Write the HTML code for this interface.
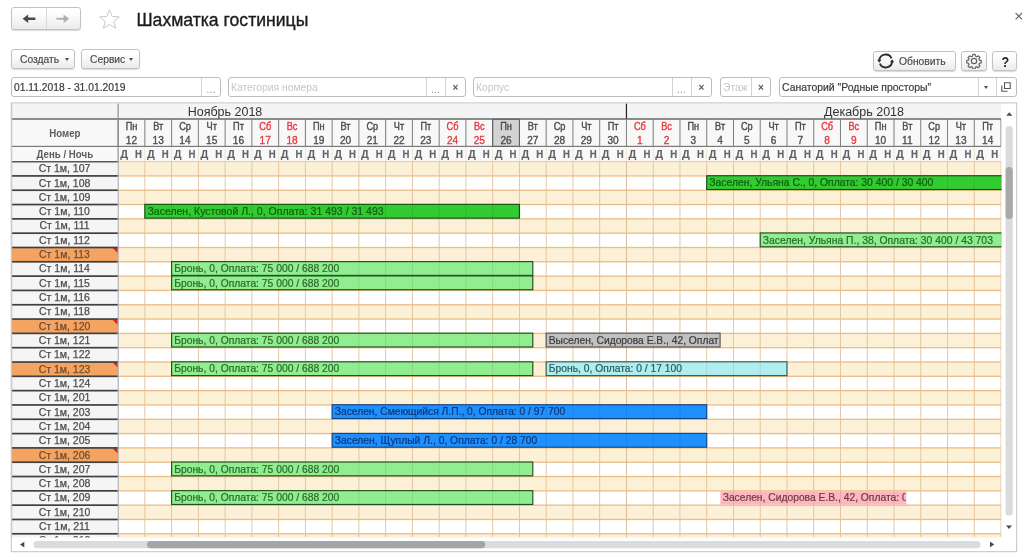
<!DOCTYPE html>
<html lang="ru">
<head>
<meta charset="utf-8">
<title>Шахматка гостиницы</title>
<style>
html,body{margin:0;padding:0;}
body{-webkit-font-smoothing:antialiased;width:1024px;height:560px;overflow:hidden;background:#fff;position:relative;font-family:"Liberation Sans",sans-serif;color:#333;}
.abs{position:absolute;box-sizing:border-box;}
.btn{position:absolute;box-sizing:border-box;border:1px solid #c2c2c2;border-radius:3px;background:linear-gradient(#ffffff 20%,#ebebeb);box-shadow:0 1px 1px rgba(0,0,0,0.15);font-size:10.9px;color:#4c4c4c;white-space:nowrap;}
.cx{-webkit-text-stroke:0.2px currentColor;position:absolute;display:block;transform-origin:0 50%;transform:scaleX(0.945);white-space:nowrap;line-height:13px;}
.inp{position:absolute;box-sizing:border-box;border:1px solid #bcbcbc;border-radius:3px;background:#fff;font-size:10.9px;color:#3a3a3a;white-space:nowrap;height:20px;top:77px;overflow:hidden;}
.inp .cx{left:2px;top:3px;}
.inp .ph{color:#c6c6c6;-webkit-text-stroke:0;}
.inp .sep{position:absolute;top:0;bottom:0;width:1px;background:#d2d2d2;}
.inp .ic{position:absolute;top:2px;bottom:0;text-align:center;color:#5a5a5a;font-size:10px;line-height:16px;}
.inp .dots{top:4px;color:#909090;letter-spacing:0.3px;}
.dd{position:absolute;width:0;height:0;border-left:2.6px solid transparent;border-right:2.6px solid transparent;border-top:3px solid #4a4a4a;}
svg.grid{position:absolute;left:0;top:0;will-change:transform;font-family:"Liberation Sans",sans-serif;}
.frame{position:absolute;box-sizing:border-box;left:11px;top:103px;width:1006px;height:449px;border:1px solid #c6c6c6;}
</style>
</head>
<body>
<div id="app" style="position:absolute;left:0;top:0;width:1024px;height:560px;will-change:transform;">
<!-- navigation -->
<div class="btn" style="left:11px;top:7px;width:70px;height:23px;"></div>
<div class="abs" style="left:46px;top:8px;width:1px;height:21px;background:#d8d8d8;"></div>
<svg class="abs" style="left:0;top:0" width="130" height="40" viewBox="0 0 130 40">
  <path d="M22.6 18.8 l5.6 -4.3 v3.1 h7.2 v2.4 h-7.2 v3.1 z" fill="#4a4a4a"/>
  <path d="M69.2 18.8 l-5.6 -4.3 v3.3 h-7.2 v2 h7.2 v3.3 z" fill="#b0b0b0"/>
  <path d="M109.5 9.8 l2.7 6.6 l7.1 0.5 l-5.5 4.5 l1.8 6.9 l-6.1 -3.8 l-6.1 3.8 l1.8 -6.9 l-5.5 -4.5 l7.1 -0.5 z" fill="none" stroke="#c8c8c8" stroke-width="1"/>
</svg>
<div class="abs" style="left:136.5px;top:10px;font-size:17.6px;color:#1c1c1c;-webkit-text-stroke:0.35px #1c1c1c;white-space:nowrap;line-height:20px;">Шахматка гостиницы</div>
<svg class="abs" style="left:1014px;top:11px" width="10" height="10" viewBox="0 0 10 10"><path d="M1.6 2 l6.4 6.4 M8 2 l-6.4 6.4" stroke="#666" stroke-width="1.1" fill="none"/></svg>

<!-- command bar -->
<div class="btn" style="left:11px;top:49px;width:63.5px;height:20px;"><span class="cx" style="left:8px;top:3px;">Создать</span><span class="dd" style="left:52.8px;top:8px;"></span></div>
<div class="btn" style="left:80.5px;top:49px;width:59.5px;height:20px;"><span class="cx" style="left:8.5px;top:3px;">Сервис</span><span class="dd" style="left:47.8px;top:8px;"></span></div>

<div class="btn" style="left:873px;top:51px;width:82.5px;height:20px;"><span class="cx" style="left:25px;top:3px;">Обновить</span>
<svg class="abs" style="left:0;top:0.4px" width="24" height="18" viewBox="0 0 24 18"><path d="M5.3 8.4 A6.4 6.4 0 0 1 17.5 6.3" fill="none" stroke="#2c2c2c" stroke-width="1.9"/><path d="M18.1 9.6 A6.4 6.4 0 0 1 5.9 11.7" fill="none" stroke="#2c2c2c" stroke-width="1.9"/><path d="M3.2 7.8 h4.2 l-2.1 3 z" fill="#2c2c2c"/><path d="M20.2 10.2 h-4.2 l2.1 -3 z" fill="#2c2c2c"/></svg></div>
<div class="btn" style="left:961px;top:51px;width:25.5px;height:20px;">
<svg class="abs" style="left:3.6px;top:1.1px" width="16" height="16" viewBox="0 0 24 24"><path d="M10.3 2.2 h3.4 l0.6 2.7 l1.9 0.8 l2.3 -1.5 l2.4 2.4 l-1.5 2.3 l0.8 1.9 l2.7 0.6 v3.4 l-2.7 0.6 l-0.8 1.9 l1.5 2.3 l-2.4 2.4 l-2.3 -1.5 l-1.9 0.8 l-0.6 2.7 h-3.4 l-0.6 -2.7 l-1.9 -0.8 l-2.3 1.5 l-2.4 -2.4 l1.5 -2.3 l-0.8 -1.9 l-2.7 -0.6 v-3.4 l2.7 -0.6 l0.8 -1.9 l-1.5 -2.3 l2.4 -2.4 l2.3 1.5 l1.9 -0.8 z" fill="none" stroke="#626262" stroke-width="1.8" stroke-linejoin="round"/><circle cx="12" cy="12" r="4" fill="none" stroke="#626262" stroke-width="1.8"/></svg></div>
<div class="btn" style="left:992px;top:51px;width:25px;height:20px;"><span class="abs" style="left:8px;top:1.5px;font-size:14px;font-weight:bold;color:#2a2a2a;line-height:16px;transform:scaleX(0.9);">?</span></div>

<!-- filter row -->
<div class="inp" style="left:11px;width:209.5px;"><span class="cx">01.11.2018 - 31.01.2019</span><span class="sep" style="left:188.5px;"></span><span class="ic dots" style="left:189.5px;width:19px;">...</span></div>
<div class="inp" style="left:228px;width:237.5px;"><span class="cx ph">Категория номера</span><span class="sep" style="left:196.5px;"></span><span class="ic dots" style="left:197px;width:19px;">...</span><span class="sep" style="left:216px;"></span><span class="ic" style="left:217px;width:19px;font-weight:bold;">×</span></div>
<div class="inp" style="left:473px;width:238.5px;"><span class="cx ph">Корпус</span><span class="sep" style="left:197.5px;"></span><span class="ic dots" style="left:198px;width:19px;">...</span><span class="sep" style="left:217px;"></span><span class="ic" style="left:218px;width:19px;font-weight:bold;">×</span></div>
<div class="inp" style="left:720px;width:51px;"><span class="cx ph">Этаж</span><span class="sep" style="left:29.5px;"></span><span class="ic" style="left:30.5px;width:19px;font-weight:bold;">×</span></div>
<div class="inp" style="left:779px;width:238px;"><span class="cx" style="transform:scaleX(0.957);">Санаторий "Родные просторы"</span><span class="sep" style="left:197.5px;"></span><span class="dd" style="left:203.6px;top:8px;"></span><span class="sep" style="left:216px;"></span>
<svg class="abs" style="left:221px;top:4px" width="10" height="10" viewBox="0 0 10 10"><path d="M3.5 0.8 h5.7 v5.7 h-5.7 z M0.8 3.5 v5.7 h5.7" fill="none" stroke="#555" stroke-width="1.1"/></svg></div>

<!-- grid -->
<svg class="grid" width="1024" height="560" viewBox="0 0 1024 560">
<defs><clipPath id="cl"><rect x="11.5" y="103.3" width="990.0" height="434.3"/></clipPath></defs>
<g clip-path="url(#cl)">
<rect x="11.5" y="103.3" width="989.5" height="15.7" fill="#f4f4f4"/>
<rect x="11.5" y="119.0" width="989.5" height="27.4" fill="#f8f8f8"/>
<rect x="11.5" y="146.4" width="989.5" height="15.2" fill="#f9f9f9"/>
<rect x="11.5" y="161.6" width="106.6" height="376.0" fill="#f5f5f5"/>
<rect x="118.10" y="161.60" width="882.91" height="14.31" fill="#fcf0d6"/>
<rect x="118.10" y="190.23" width="882.91" height="14.31" fill="#fcf0d6"/>
<rect x="118.10" y="218.86" width="882.91" height="14.31" fill="#fcf0d6"/>
<rect x="118.10" y="247.49" width="882.91" height="14.31" fill="#fcf0d6"/>
<rect x="118.10" y="276.12" width="882.91" height="14.31" fill="#fcf0d6"/>
<rect x="118.10" y="304.75" width="882.91" height="14.31" fill="#fcf0d6"/>
<rect x="118.10" y="333.38" width="882.91" height="14.31" fill="#fcf0d6"/>
<rect x="118.10" y="362.01" width="882.91" height="14.31" fill="#fcf0d6"/>
<rect x="118.10" y="390.64" width="882.91" height="14.31" fill="#fcf0d6"/>
<rect x="118.10" y="419.27" width="882.91" height="14.31" fill="#fcf0d6"/>
<rect x="118.10" y="447.90" width="882.91" height="14.31" fill="#fcf0d6"/>
<rect x="118.10" y="476.53" width="882.91" height="14.31" fill="#fcf0d6"/>
<rect x="118.10" y="505.16" width="882.91" height="14.31" fill="#fcf0d6"/>
<rect x="118.10" y="533.79" width="882.91" height="14.31" fill="#fcf0d6"/>
<rect x="144.41" y="146.40" width="0.9" height="15.20" fill="#f1e3cd"/>
<rect x="144.41" y="161.60" width="0.9" height="376.00" fill="#dfc29b"/>
<rect x="171.16" y="146.40" width="0.9" height="15.20" fill="#f1e3cd"/>
<rect x="171.16" y="161.60" width="0.9" height="376.00" fill="#dfc29b"/>
<rect x="197.92" y="146.40" width="0.9" height="15.20" fill="#f1e3cd"/>
<rect x="197.92" y="161.60" width="0.9" height="376.00" fill="#dfc29b"/>
<rect x="224.67" y="146.40" width="0.9" height="15.20" fill="#f1e3cd"/>
<rect x="224.67" y="161.60" width="0.9" height="376.00" fill="#dfc29b"/>
<rect x="251.43" y="146.40" width="0.9" height="15.20" fill="#f1e3cd"/>
<rect x="251.43" y="161.60" width="0.9" height="376.00" fill="#dfc29b"/>
<rect x="278.18" y="146.40" width="0.9" height="15.20" fill="#f1e3cd"/>
<rect x="278.18" y="161.60" width="0.9" height="376.00" fill="#dfc29b"/>
<rect x="304.94" y="146.40" width="0.9" height="15.20" fill="#f1e3cd"/>
<rect x="304.94" y="161.60" width="0.9" height="376.00" fill="#dfc29b"/>
<rect x="331.69" y="146.40" width="0.9" height="15.20" fill="#f1e3cd"/>
<rect x="331.69" y="161.60" width="0.9" height="376.00" fill="#dfc29b"/>
<rect x="358.44" y="146.40" width="0.9" height="15.20" fill="#f1e3cd"/>
<rect x="358.44" y="161.60" width="0.9" height="376.00" fill="#dfc29b"/>
<rect x="385.20" y="146.40" width="0.9" height="15.20" fill="#f1e3cd"/>
<rect x="385.20" y="161.60" width="0.9" height="376.00" fill="#dfc29b"/>
<rect x="411.95" y="146.40" width="0.9" height="15.20" fill="#f1e3cd"/>
<rect x="411.95" y="161.60" width="0.9" height="376.00" fill="#dfc29b"/>
<rect x="438.71" y="146.40" width="0.9" height="15.20" fill="#f1e3cd"/>
<rect x="438.71" y="161.60" width="0.9" height="376.00" fill="#dfc29b"/>
<rect x="465.46" y="146.40" width="0.9" height="15.20" fill="#f1e3cd"/>
<rect x="465.46" y="161.60" width="0.9" height="376.00" fill="#dfc29b"/>
<rect x="492.22" y="146.40" width="0.9" height="15.20" fill="#f1e3cd"/>
<rect x="492.22" y="161.60" width="0.9" height="376.00" fill="#dfc29b"/>
<rect x="518.97" y="146.40" width="0.9" height="15.20" fill="#f1e3cd"/>
<rect x="518.97" y="161.60" width="0.9" height="376.00" fill="#dfc29b"/>
<rect x="545.73" y="146.40" width="0.9" height="15.20" fill="#f1e3cd"/>
<rect x="545.73" y="161.60" width="0.9" height="376.00" fill="#dfc29b"/>
<rect x="572.48" y="146.40" width="0.9" height="15.20" fill="#f1e3cd"/>
<rect x="572.48" y="161.60" width="0.9" height="376.00" fill="#dfc29b"/>
<rect x="599.24" y="146.40" width="0.9" height="15.20" fill="#f1e3cd"/>
<rect x="599.24" y="161.60" width="0.9" height="376.00" fill="#dfc29b"/>
<rect x="625.99" y="146.40" width="0.9" height="15.20" fill="#f1e3cd"/>
<rect x="625.99" y="161.60" width="0.9" height="376.00" fill="#cfb898"/>
<rect x="652.75" y="146.40" width="0.9" height="15.20" fill="#f1e3cd"/>
<rect x="652.75" y="161.60" width="0.9" height="376.00" fill="#dfc29b"/>
<rect x="679.50" y="146.40" width="0.9" height="15.20" fill="#f1e3cd"/>
<rect x="679.50" y="161.60" width="0.9" height="376.00" fill="#dfc29b"/>
<rect x="706.26" y="146.40" width="0.9" height="15.20" fill="#f1e3cd"/>
<rect x="706.26" y="161.60" width="0.9" height="376.00" fill="#dfc29b"/>
<rect x="733.01" y="146.40" width="0.9" height="15.20" fill="#f1e3cd"/>
<rect x="733.01" y="161.60" width="0.9" height="376.00" fill="#dfc29b"/>
<rect x="759.77" y="146.40" width="0.9" height="15.20" fill="#f1e3cd"/>
<rect x="759.77" y="161.60" width="0.9" height="376.00" fill="#dfc29b"/>
<rect x="786.52" y="146.40" width="0.9" height="15.20" fill="#f1e3cd"/>
<rect x="786.52" y="161.60" width="0.9" height="376.00" fill="#dfc29b"/>
<rect x="813.28" y="146.40" width="0.9" height="15.20" fill="#f1e3cd"/>
<rect x="813.28" y="161.60" width="0.9" height="376.00" fill="#dfc29b"/>
<rect x="840.03" y="146.40" width="0.9" height="15.20" fill="#f1e3cd"/>
<rect x="840.03" y="161.60" width="0.9" height="376.00" fill="#dfc29b"/>
<rect x="866.79" y="146.40" width="0.9" height="15.20" fill="#f1e3cd"/>
<rect x="866.79" y="161.60" width="0.9" height="376.00" fill="#dfc29b"/>
<rect x="893.54" y="146.40" width="0.9" height="15.20" fill="#f1e3cd"/>
<rect x="893.54" y="161.60" width="0.9" height="376.00" fill="#dfc29b"/>
<rect x="920.30" y="146.40" width="0.9" height="15.20" fill="#f1e3cd"/>
<rect x="920.30" y="161.60" width="0.9" height="376.00" fill="#dfc29b"/>
<rect x="947.05" y="146.40" width="0.9" height="15.20" fill="#f1e3cd"/>
<rect x="947.05" y="161.60" width="0.9" height="376.00" fill="#dfc29b"/>
<rect x="973.81" y="146.40" width="0.9" height="15.20" fill="#f1e3cd"/>
<rect x="973.81" y="161.60" width="0.9" height="376.00" fill="#dfc29b"/>
<rect x="1000.56" y="146.40" width="0.9" height="15.20" fill="#f1e3cd"/>
<rect x="1000.56" y="161.60" width="0.9" height="376.00" fill="#dfc29b"/>
<rect x="118.10" y="160.95" width="882.91" height="1.3" fill="#e9cfa6"/>
<rect x="118.10" y="175.26" width="882.91" height="1.3" fill="#eabd87"/>
<rect x="118.10" y="189.58" width="882.91" height="1.3" fill="#eabd87"/>
<rect x="118.10" y="203.89" width="882.91" height="1.3" fill="#eabd87"/>
<rect x="118.10" y="218.21" width="882.91" height="1.3" fill="#eabd87"/>
<rect x="118.10" y="232.53" width="882.91" height="1.3" fill="#eabd87"/>
<rect x="118.10" y="246.84" width="882.91" height="1.3" fill="#eabd87"/>
<rect x="118.10" y="261.16" width="882.91" height="1.3" fill="#eabd87"/>
<rect x="118.10" y="275.47" width="882.91" height="1.3" fill="#eabd87"/>
<rect x="118.10" y="289.79" width="882.91" height="1.3" fill="#eabd87"/>
<rect x="118.10" y="304.10" width="882.91" height="1.3" fill="#eabd87"/>
<rect x="118.10" y="318.42" width="882.91" height="1.3" fill="#eabd87"/>
<rect x="118.10" y="332.73" width="882.91" height="1.3" fill="#eabd87"/>
<rect x="118.10" y="347.05" width="882.91" height="1.3" fill="#eabd87"/>
<rect x="118.10" y="361.36" width="882.91" height="1.3" fill="#eabd87"/>
<rect x="118.10" y="375.68" width="882.91" height="1.3" fill="#eabd87"/>
<rect x="118.10" y="389.99" width="882.91" height="1.3" fill="#eabd87"/>
<rect x="118.10" y="404.31" width="882.91" height="1.3" fill="#eabd87"/>
<rect x="118.10" y="418.62" width="882.91" height="1.3" fill="#eabd87"/>
<rect x="118.10" y="432.94" width="882.91" height="1.3" fill="#eabd87"/>
<rect x="118.10" y="447.25" width="882.91" height="1.3" fill="#eabd87"/>
<rect x="118.10" y="461.57" width="882.91" height="1.3" fill="#eabd87"/>
<rect x="118.10" y="475.88" width="882.91" height="1.3" fill="#eabd87"/>
<rect x="118.10" y="490.20" width="882.91" height="1.3" fill="#eabd87"/>
<rect x="118.10" y="504.51" width="882.91" height="1.3" fill="#eabd87"/>
<rect x="118.10" y="518.83" width="882.91" height="1.3" fill="#eabd87"/>
<rect x="118.10" y="533.14" width="882.91" height="1.3" fill="#eabd87"/>
<rect x="118.10" y="547.46" width="882.91" height="1.3" fill="#eabd87"/>
<rect x="706.71" y="175.72" width="299.66" height="13.81" fill="#32cb32" stroke="#175017" stroke-width="1.15"/>
<rect x="733.01" y="176.41" width="0.9" height="13.31" fill="#000" opacity="0.09"/>
<rect x="759.77" y="176.41" width="0.9" height="13.31" fill="#000" opacity="0.09"/>
<rect x="786.52" y="176.41" width="0.9" height="13.31" fill="#000" opacity="0.09"/>
<rect x="813.28" y="176.41" width="0.9" height="13.31" fill="#000" opacity="0.09"/>
<rect x="840.03" y="176.41" width="0.9" height="13.31" fill="#000" opacity="0.09"/>
<rect x="866.79" y="176.41" width="0.9" height="13.31" fill="#000" opacity="0.09"/>
<rect x="893.54" y="176.41" width="0.9" height="13.31" fill="#000" opacity="0.09"/>
<rect x="920.30" y="176.41" width="0.9" height="13.31" fill="#000" opacity="0.09"/>
<rect x="947.05" y="176.41" width="0.9" height="13.31" fill="#000" opacity="0.09"/>
<rect x="973.81" y="176.41" width="0.9" height="13.31" fill="#000" opacity="0.09"/>
<rect x="1000.56" y="176.41" width="0.9" height="13.31" fill="#000" opacity="0.09"/>
<clipPath id="b0"><rect x="706.71" y="175.91" width="299.16" height="14.31"/></clipPath>
<text clip-path="url(#b0)" x="709.31" y="186.31" font-size="10.4" fill="#0f5f0f" stroke="#0f5f0f" stroke-width="0.22" textLength="224.0" lengthAdjust="spacingAndGlyphs">Заселен, Ульяна С., 0, Оплата: 30 400 / 30 400</text>
<rect x="144.85" y="204.34" width="374.57" height="13.81" fill="#32cb32" stroke="#175017" stroke-width="1.15"/>
<rect x="171.16" y="205.04" width="0.9" height="13.31" fill="#000" opacity="0.09"/>
<rect x="197.92" y="205.04" width="0.9" height="13.31" fill="#000" opacity="0.09"/>
<rect x="224.67" y="205.04" width="0.9" height="13.31" fill="#000" opacity="0.09"/>
<rect x="251.43" y="205.04" width="0.9" height="13.31" fill="#000" opacity="0.09"/>
<rect x="278.18" y="205.04" width="0.9" height="13.31" fill="#000" opacity="0.09"/>
<rect x="304.94" y="205.04" width="0.9" height="13.31" fill="#000" opacity="0.09"/>
<rect x="331.69" y="205.04" width="0.9" height="13.31" fill="#000" opacity="0.09"/>
<rect x="358.44" y="205.04" width="0.9" height="13.31" fill="#000" opacity="0.09"/>
<rect x="385.20" y="205.04" width="0.9" height="13.31" fill="#000" opacity="0.09"/>
<rect x="411.95" y="205.04" width="0.9" height="13.31" fill="#000" opacity="0.09"/>
<rect x="438.71" y="205.04" width="0.9" height="13.31" fill="#000" opacity="0.09"/>
<rect x="465.46" y="205.04" width="0.9" height="13.31" fill="#000" opacity="0.09"/>
<rect x="492.22" y="205.04" width="0.9" height="13.31" fill="#000" opacity="0.09"/>
<clipPath id="b1"><rect x="144.85" y="204.54" width="374.07" height="14.31"/></clipPath>
<text clip-path="url(#b1)" x="147.45" y="214.94" font-size="10.4" fill="#0f5f0f" stroke="#0f5f0f" stroke-width="0.22" textLength="236.2" lengthAdjust="spacingAndGlyphs">Заселен, Кустовой Л., 0, Оплата: 31 493 / 31 493</text>
<rect x="760.22" y="232.98" width="246.15" height="13.81" fill="#90ee90" stroke="#214d21" stroke-width="1.15"/>
<rect x="786.52" y="233.68" width="0.9" height="13.31" fill="#000" opacity="0.09"/>
<rect x="813.28" y="233.68" width="0.9" height="13.31" fill="#000" opacity="0.09"/>
<rect x="840.03" y="233.68" width="0.9" height="13.31" fill="#000" opacity="0.09"/>
<rect x="866.79" y="233.68" width="0.9" height="13.31" fill="#000" opacity="0.09"/>
<rect x="893.54" y="233.68" width="0.9" height="13.31" fill="#000" opacity="0.09"/>
<rect x="920.30" y="233.68" width="0.9" height="13.31" fill="#000" opacity="0.09"/>
<rect x="947.05" y="233.68" width="0.9" height="13.31" fill="#000" opacity="0.09"/>
<rect x="973.81" y="233.68" width="0.9" height="13.31" fill="#000" opacity="0.09"/>
<rect x="1000.56" y="233.68" width="0.9" height="13.31" fill="#000" opacity="0.09"/>
<clipPath id="b2"><rect x="760.22" y="233.18" width="245.65" height="14.31"/></clipPath>
<text clip-path="url(#b2)" x="762.82" y="243.58" font-size="10.4" fill="#2c6a2c" stroke="#2c6a2c" stroke-width="0.22" textLength="230.1" lengthAdjust="spacingAndGlyphs">Заселен, Ульяна П., 38, Оплата: 30 400 / 43 703</text>
<rect x="171.61" y="261.61" width="361.19" height="13.81" fill="#90ee90" stroke="#214d21" stroke-width="1.15"/>
<rect x="197.92" y="262.31" width="0.9" height="13.31" fill="#000" opacity="0.09"/>
<rect x="224.67" y="262.31" width="0.9" height="13.31" fill="#000" opacity="0.09"/>
<rect x="251.43" y="262.31" width="0.9" height="13.31" fill="#000" opacity="0.09"/>
<rect x="278.18" y="262.31" width="0.9" height="13.31" fill="#000" opacity="0.09"/>
<rect x="304.94" y="262.31" width="0.9" height="13.31" fill="#000" opacity="0.09"/>
<rect x="331.69" y="262.31" width="0.9" height="13.31" fill="#000" opacity="0.09"/>
<rect x="358.44" y="262.31" width="0.9" height="13.31" fill="#000" opacity="0.09"/>
<rect x="385.20" y="262.31" width="0.9" height="13.31" fill="#000" opacity="0.09"/>
<rect x="411.95" y="262.31" width="0.9" height="13.31" fill="#000" opacity="0.09"/>
<rect x="438.71" y="262.31" width="0.9" height="13.31" fill="#000" opacity="0.09"/>
<rect x="465.46" y="262.31" width="0.9" height="13.31" fill="#000" opacity="0.09"/>
<rect x="492.22" y="262.31" width="0.9" height="13.31" fill="#000" opacity="0.09"/>
<rect x="518.97" y="262.31" width="0.9" height="13.31" fill="#000" opacity="0.09"/>
<clipPath id="b3"><rect x="171.61" y="261.81" width="360.69" height="14.31"/></clipPath>
<text clip-path="url(#b3)" x="174.21" y="272.20" font-size="10.4" fill="#2c6a2c" stroke="#2c6a2c" stroke-width="0.22" textLength="165.0" lengthAdjust="spacingAndGlyphs">Бронь, 0, Оплата: 75 000 / 688 200</text>
<rect x="171.61" y="275.92" width="361.19" height="13.81" fill="#90ee90" stroke="#214d21" stroke-width="1.15"/>
<rect x="197.92" y="276.62" width="0.9" height="13.31" fill="#000" opacity="0.09"/>
<rect x="224.67" y="276.62" width="0.9" height="13.31" fill="#000" opacity="0.09"/>
<rect x="251.43" y="276.62" width="0.9" height="13.31" fill="#000" opacity="0.09"/>
<rect x="278.18" y="276.62" width="0.9" height="13.31" fill="#000" opacity="0.09"/>
<rect x="304.94" y="276.62" width="0.9" height="13.31" fill="#000" opacity="0.09"/>
<rect x="331.69" y="276.62" width="0.9" height="13.31" fill="#000" opacity="0.09"/>
<rect x="358.44" y="276.62" width="0.9" height="13.31" fill="#000" opacity="0.09"/>
<rect x="385.20" y="276.62" width="0.9" height="13.31" fill="#000" opacity="0.09"/>
<rect x="411.95" y="276.62" width="0.9" height="13.31" fill="#000" opacity="0.09"/>
<rect x="438.71" y="276.62" width="0.9" height="13.31" fill="#000" opacity="0.09"/>
<rect x="465.46" y="276.62" width="0.9" height="13.31" fill="#000" opacity="0.09"/>
<rect x="492.22" y="276.62" width="0.9" height="13.31" fill="#000" opacity="0.09"/>
<rect x="518.97" y="276.62" width="0.9" height="13.31" fill="#000" opacity="0.09"/>
<clipPath id="b4"><rect x="171.61" y="276.12" width="360.69" height="14.31"/></clipPath>
<text clip-path="url(#b4)" x="174.21" y="286.52" font-size="10.4" fill="#2c6a2c" stroke="#2c6a2c" stroke-width="0.22" textLength="165.0" lengthAdjust="spacingAndGlyphs">Бронь, 0, Оплата: 75 000 / 688 200</text>
<rect x="171.61" y="333.18" width="361.19" height="13.81" fill="#90ee90" stroke="#214d21" stroke-width="1.15"/>
<rect x="197.92" y="333.88" width="0.9" height="13.31" fill="#000" opacity="0.09"/>
<rect x="224.67" y="333.88" width="0.9" height="13.31" fill="#000" opacity="0.09"/>
<rect x="251.43" y="333.88" width="0.9" height="13.31" fill="#000" opacity="0.09"/>
<rect x="278.18" y="333.88" width="0.9" height="13.31" fill="#000" opacity="0.09"/>
<rect x="304.94" y="333.88" width="0.9" height="13.31" fill="#000" opacity="0.09"/>
<rect x="331.69" y="333.88" width="0.9" height="13.31" fill="#000" opacity="0.09"/>
<rect x="358.44" y="333.88" width="0.9" height="13.31" fill="#000" opacity="0.09"/>
<rect x="385.20" y="333.88" width="0.9" height="13.31" fill="#000" opacity="0.09"/>
<rect x="411.95" y="333.88" width="0.9" height="13.31" fill="#000" opacity="0.09"/>
<rect x="438.71" y="333.88" width="0.9" height="13.31" fill="#000" opacity="0.09"/>
<rect x="465.46" y="333.88" width="0.9" height="13.31" fill="#000" opacity="0.09"/>
<rect x="492.22" y="333.88" width="0.9" height="13.31" fill="#000" opacity="0.09"/>
<rect x="518.97" y="333.88" width="0.9" height="13.31" fill="#000" opacity="0.09"/>
<clipPath id="b5"><rect x="171.61" y="333.38" width="360.69" height="14.31"/></clipPath>
<text clip-path="url(#b5)" x="174.21" y="343.78" font-size="10.4" fill="#2c6a2c" stroke="#2c6a2c" stroke-width="0.22" textLength="165.0" lengthAdjust="spacingAndGlyphs">Бронь, 0, Оплата: 75 000 / 688 200</text>
<rect x="546.18" y="333.18" width="173.91" height="13.81" fill="#c1c1c1" stroke="#555555" stroke-width="1.15"/>
<rect x="572.48" y="333.88" width="0.9" height="13.31" fill="#000" opacity="0.09"/>
<rect x="599.24" y="333.88" width="0.9" height="13.31" fill="#000" opacity="0.09"/>
<rect x="625.99" y="333.88" width="0.9" height="13.31" fill="#000" opacity="0.09"/>
<rect x="652.75" y="333.88" width="0.9" height="13.31" fill="#000" opacity="0.09"/>
<rect x="679.50" y="333.88" width="0.9" height="13.31" fill="#000" opacity="0.09"/>
<rect x="706.26" y="333.88" width="0.9" height="13.31" fill="#000" opacity="0.09"/>
<clipPath id="b6"><rect x="546.18" y="333.38" width="173.41" height="14.31"/></clipPath>
<text clip-path="url(#b6)" x="548.78" y="343.78" font-size="10.4" fill="#3c3c3c" stroke="#3c3c3c" stroke-width="0.22" textLength="169.8" lengthAdjust="spacingAndGlyphs">Выселен, Сидорова Е.В., 42, Оплат</text>
<rect x="171.61" y="361.81" width="361.19" height="13.81" fill="#90ee90" stroke="#214d21" stroke-width="1.15"/>
<rect x="197.92" y="362.51" width="0.9" height="13.31" fill="#000" opacity="0.09"/>
<rect x="224.67" y="362.51" width="0.9" height="13.31" fill="#000" opacity="0.09"/>
<rect x="251.43" y="362.51" width="0.9" height="13.31" fill="#000" opacity="0.09"/>
<rect x="278.18" y="362.51" width="0.9" height="13.31" fill="#000" opacity="0.09"/>
<rect x="304.94" y="362.51" width="0.9" height="13.31" fill="#000" opacity="0.09"/>
<rect x="331.69" y="362.51" width="0.9" height="13.31" fill="#000" opacity="0.09"/>
<rect x="358.44" y="362.51" width="0.9" height="13.31" fill="#000" opacity="0.09"/>
<rect x="385.20" y="362.51" width="0.9" height="13.31" fill="#000" opacity="0.09"/>
<rect x="411.95" y="362.51" width="0.9" height="13.31" fill="#000" opacity="0.09"/>
<rect x="438.71" y="362.51" width="0.9" height="13.31" fill="#000" opacity="0.09"/>
<rect x="465.46" y="362.51" width="0.9" height="13.31" fill="#000" opacity="0.09"/>
<rect x="492.22" y="362.51" width="0.9" height="13.31" fill="#000" opacity="0.09"/>
<rect x="518.97" y="362.51" width="0.9" height="13.31" fill="#000" opacity="0.09"/>
<clipPath id="b7"><rect x="171.61" y="362.01" width="360.69" height="14.31"/></clipPath>
<text clip-path="url(#b7)" x="174.21" y="372.41" font-size="10.4" fill="#2c6a2c" stroke="#2c6a2c" stroke-width="0.22" textLength="165.0" lengthAdjust="spacingAndGlyphs">Бронь, 0, Оплата: 75 000 / 688 200</text>
<rect x="546.18" y="361.81" width="240.80" height="13.81" fill="#aeeeee" stroke="#3a5656" stroke-width="1.15"/>
<rect x="572.48" y="362.51" width="0.9" height="13.31" fill="#000" opacity="0.09"/>
<rect x="599.24" y="362.51" width="0.9" height="13.31" fill="#000" opacity="0.09"/>
<rect x="625.99" y="362.51" width="0.9" height="13.31" fill="#000" opacity="0.09"/>
<rect x="652.75" y="362.51" width="0.9" height="13.31" fill="#000" opacity="0.09"/>
<rect x="679.50" y="362.51" width="0.9" height="13.31" fill="#000" opacity="0.09"/>
<rect x="706.26" y="362.51" width="0.9" height="13.31" fill="#000" opacity="0.09"/>
<rect x="733.01" y="362.51" width="0.9" height="13.31" fill="#000" opacity="0.09"/>
<rect x="759.77" y="362.51" width="0.9" height="13.31" fill="#000" opacity="0.09"/>
<clipPath id="b8"><rect x="546.18" y="362.01" width="240.30" height="14.31"/></clipPath>
<text clip-path="url(#b8)" x="548.78" y="372.41" font-size="10.4" fill="#2c5c5c" stroke="#2c5c5c" stroke-width="0.22" textLength="133.2" lengthAdjust="spacingAndGlyphs">Бронь, 0, Оплата: 0 / 17 100</text>
<rect x="332.14" y="404.75" width="374.57" height="13.81" fill="#1e90ff" stroke="#14447f" stroke-width="1.15"/>
<rect x="358.44" y="405.45" width="0.9" height="13.31" fill="#000" opacity="0.09"/>
<rect x="385.20" y="405.45" width="0.9" height="13.31" fill="#000" opacity="0.09"/>
<rect x="411.95" y="405.45" width="0.9" height="13.31" fill="#000" opacity="0.09"/>
<rect x="438.71" y="405.45" width="0.9" height="13.31" fill="#000" opacity="0.09"/>
<rect x="465.46" y="405.45" width="0.9" height="13.31" fill="#000" opacity="0.09"/>
<rect x="492.22" y="405.45" width="0.9" height="13.31" fill="#000" opacity="0.09"/>
<rect x="518.97" y="405.45" width="0.9" height="13.31" fill="#000" opacity="0.09"/>
<rect x="545.73" y="405.45" width="0.9" height="13.31" fill="#000" opacity="0.09"/>
<rect x="572.48" y="405.45" width="0.9" height="13.31" fill="#000" opacity="0.09"/>
<rect x="599.24" y="405.45" width="0.9" height="13.31" fill="#000" opacity="0.09"/>
<rect x="625.99" y="405.45" width="0.9" height="13.31" fill="#000" opacity="0.09"/>
<rect x="652.75" y="405.45" width="0.9" height="13.31" fill="#000" opacity="0.09"/>
<rect x="679.50" y="405.45" width="0.9" height="13.31" fill="#000" opacity="0.09"/>
<clipPath id="b9"><rect x="332.14" y="404.95" width="374.07" height="14.31"/></clipPath>
<text clip-path="url(#b9)" x="334.74" y="415.35" font-size="10.4" fill="#0b3878" stroke="#0b3878" stroke-width="0.22" textLength="230.5" lengthAdjust="spacingAndGlyphs">Заселен, Смеющийся Л.П., 0, Оплата: 0 / 97 700</text>
<rect x="332.14" y="433.39" width="374.57" height="13.81" fill="#1e90ff" stroke="#14447f" stroke-width="1.15"/>
<rect x="358.44" y="434.09" width="0.9" height="13.31" fill="#000" opacity="0.09"/>
<rect x="385.20" y="434.09" width="0.9" height="13.31" fill="#000" opacity="0.09"/>
<rect x="411.95" y="434.09" width="0.9" height="13.31" fill="#000" opacity="0.09"/>
<rect x="438.71" y="434.09" width="0.9" height="13.31" fill="#000" opacity="0.09"/>
<rect x="465.46" y="434.09" width="0.9" height="13.31" fill="#000" opacity="0.09"/>
<rect x="492.22" y="434.09" width="0.9" height="13.31" fill="#000" opacity="0.09"/>
<rect x="518.97" y="434.09" width="0.9" height="13.31" fill="#000" opacity="0.09"/>
<rect x="545.73" y="434.09" width="0.9" height="13.31" fill="#000" opacity="0.09"/>
<rect x="572.48" y="434.09" width="0.9" height="13.31" fill="#000" opacity="0.09"/>
<rect x="599.24" y="434.09" width="0.9" height="13.31" fill="#000" opacity="0.09"/>
<rect x="625.99" y="434.09" width="0.9" height="13.31" fill="#000" opacity="0.09"/>
<rect x="652.75" y="434.09" width="0.9" height="13.31" fill="#000" opacity="0.09"/>
<rect x="679.50" y="434.09" width="0.9" height="13.31" fill="#000" opacity="0.09"/>
<clipPath id="b10"><rect x="332.14" y="433.59" width="374.07" height="14.31"/></clipPath>
<text clip-path="url(#b10)" x="334.74" y="443.99" font-size="10.4" fill="#0b3878" stroke="#0b3878" stroke-width="0.22" textLength="202.6" lengthAdjust="spacingAndGlyphs">Заселен, Щуплый Л., 0, Оплата: 0 / 28 700</text>
<rect x="171.61" y="462.02" width="361.19" height="13.81" fill="#90ee90" stroke="#214d21" stroke-width="1.15"/>
<rect x="197.92" y="462.72" width="0.9" height="13.31" fill="#000" opacity="0.09"/>
<rect x="224.67" y="462.72" width="0.9" height="13.31" fill="#000" opacity="0.09"/>
<rect x="251.43" y="462.72" width="0.9" height="13.31" fill="#000" opacity="0.09"/>
<rect x="278.18" y="462.72" width="0.9" height="13.31" fill="#000" opacity="0.09"/>
<rect x="304.94" y="462.72" width="0.9" height="13.31" fill="#000" opacity="0.09"/>
<rect x="331.69" y="462.72" width="0.9" height="13.31" fill="#000" opacity="0.09"/>
<rect x="358.44" y="462.72" width="0.9" height="13.31" fill="#000" opacity="0.09"/>
<rect x="385.20" y="462.72" width="0.9" height="13.31" fill="#000" opacity="0.09"/>
<rect x="411.95" y="462.72" width="0.9" height="13.31" fill="#000" opacity="0.09"/>
<rect x="438.71" y="462.72" width="0.9" height="13.31" fill="#000" opacity="0.09"/>
<rect x="465.46" y="462.72" width="0.9" height="13.31" fill="#000" opacity="0.09"/>
<rect x="492.22" y="462.72" width="0.9" height="13.31" fill="#000" opacity="0.09"/>
<rect x="518.97" y="462.72" width="0.9" height="13.31" fill="#000" opacity="0.09"/>
<clipPath id="b11"><rect x="171.61" y="462.22" width="360.69" height="14.31"/></clipPath>
<text clip-path="url(#b11)" x="174.21" y="472.62" font-size="10.4" fill="#2c6a2c" stroke="#2c6a2c" stroke-width="0.22" textLength="165.0" lengthAdjust="spacingAndGlyphs">Бронь, 0, Оплата: 75 000 / 688 200</text>
<rect x="171.61" y="490.65" width="361.19" height="13.81" fill="#90ee90" stroke="#214d21" stroke-width="1.15"/>
<rect x="197.92" y="491.35" width="0.9" height="13.31" fill="#000" opacity="0.09"/>
<rect x="224.67" y="491.35" width="0.9" height="13.31" fill="#000" opacity="0.09"/>
<rect x="251.43" y="491.35" width="0.9" height="13.31" fill="#000" opacity="0.09"/>
<rect x="278.18" y="491.35" width="0.9" height="13.31" fill="#000" opacity="0.09"/>
<rect x="304.94" y="491.35" width="0.9" height="13.31" fill="#000" opacity="0.09"/>
<rect x="331.69" y="491.35" width="0.9" height="13.31" fill="#000" opacity="0.09"/>
<rect x="358.44" y="491.35" width="0.9" height="13.31" fill="#000" opacity="0.09"/>
<rect x="385.20" y="491.35" width="0.9" height="13.31" fill="#000" opacity="0.09"/>
<rect x="411.95" y="491.35" width="0.9" height="13.31" fill="#000" opacity="0.09"/>
<rect x="438.71" y="491.35" width="0.9" height="13.31" fill="#000" opacity="0.09"/>
<rect x="465.46" y="491.35" width="0.9" height="13.31" fill="#000" opacity="0.09"/>
<rect x="492.22" y="491.35" width="0.9" height="13.31" fill="#000" opacity="0.09"/>
<rect x="518.97" y="491.35" width="0.9" height="13.31" fill="#000" opacity="0.09"/>
<clipPath id="b12"><rect x="171.61" y="490.85" width="360.69" height="14.31"/></clipPath>
<text clip-path="url(#b12)" x="174.21" y="501.25" font-size="10.4" fill="#2c6a2c" stroke="#2c6a2c" stroke-width="0.22" textLength="165.0" lengthAdjust="spacingAndGlyphs">Бронь, 0, Оплата: 75 000 / 688 200</text>
<rect x="720.39" y="491.35" width="185.95" height="13.31" fill="#ffb6c1"/>
<rect x="733.01" y="491.35" width="0.9" height="13.31" fill="#000" opacity="0.09"/>
<rect x="759.77" y="491.35" width="0.9" height="13.31" fill="#000" opacity="0.09"/>
<rect x="786.52" y="491.35" width="0.9" height="13.31" fill="#000" opacity="0.09"/>
<rect x="813.28" y="491.35" width="0.9" height="13.31" fill="#000" opacity="0.09"/>
<rect x="840.03" y="491.35" width="0.9" height="13.31" fill="#000" opacity="0.09"/>
<rect x="866.79" y="491.35" width="0.9" height="13.31" fill="#000" opacity="0.09"/>
<rect x="893.54" y="491.35" width="0.9" height="13.31" fill="#000" opacity="0.09"/>
<clipPath id="b13"><rect x="720.09" y="490.85" width="185.45" height="14.31"/></clipPath>
<text clip-path="url(#b13)" x="722.69" y="501.25" font-size="10.4" fill="#6e3c44" stroke="#6e3c44" stroke-width="0.22" textLength="185.0" lengthAdjust="spacingAndGlyphs">Заселен, Сидорова Е.В., 42, Оплата: 0</text>
<rect x="625.84" y="103.30" width="1.2" height="15.70" fill="#222"/>
<text x="225.00" y="115.80" font-size="12.5" fill="#333" text-anchor="middle">Ноябрь 2018</text>
<text x="864.00" y="115.80" font-size="12.5" fill="#333" text-anchor="middle">Декабрь 2018</text>
<rect x="492.67" y="119.00" width="26.75" height="27.40" fill="#d3d3d3"/>
<rect x="11.50" y="118.25" width="989.51" height="1.5" fill="#6a6a6a"/>
<rect x="11.50" y="145.80" width="989.51" height="1.2" fill="#7a7a7a"/>
<rect x="117.58" y="119.00" width="1.05" height="27.40" fill="#828282"/>
<rect x="144.33" y="119.00" width="1.05" height="27.40" fill="#828282"/>
<rect x="171.09" y="119.00" width="1.05" height="27.40" fill="#828282"/>
<rect x="197.84" y="119.00" width="1.05" height="27.40" fill="#828282"/>
<rect x="224.60" y="119.00" width="1.05" height="27.40" fill="#828282"/>
<rect x="251.35" y="119.00" width="1.05" height="27.40" fill="#828282"/>
<rect x="278.11" y="119.00" width="1.05" height="27.40" fill="#828282"/>
<rect x="304.87" y="119.00" width="1.05" height="27.40" fill="#828282"/>
<rect x="331.62" y="119.00" width="1.05" height="27.40" fill="#828282"/>
<rect x="358.38" y="119.00" width="1.05" height="27.40" fill="#828282"/>
<rect x="385.13" y="119.00" width="1.05" height="27.40" fill="#828282"/>
<rect x="411.88" y="119.00" width="1.05" height="27.40" fill="#828282"/>
<rect x="438.64" y="119.00" width="1.05" height="27.40" fill="#828282"/>
<rect x="465.39" y="119.00" width="1.05" height="27.40" fill="#828282"/>
<rect x="492.15" y="119.00" width="1.05" height="27.40" fill="#828282"/>
<rect x="518.90" y="119.00" width="1.05" height="27.40" fill="#828282"/>
<rect x="545.66" y="119.00" width="1.05" height="27.40" fill="#828282"/>
<rect x="572.41" y="119.00" width="1.05" height="27.40" fill="#828282"/>
<rect x="599.17" y="119.00" width="1.05" height="27.40" fill="#828282"/>
<rect x="625.92" y="119.00" width="1.05" height="27.40" fill="#828282"/>
<rect x="652.68" y="119.00" width="1.05" height="27.40" fill="#828282"/>
<rect x="679.44" y="119.00" width="1.05" height="27.40" fill="#828282"/>
<rect x="706.19" y="119.00" width="1.05" height="27.40" fill="#828282"/>
<rect x="732.95" y="119.00" width="1.05" height="27.40" fill="#828282"/>
<rect x="759.70" y="119.00" width="1.05" height="27.40" fill="#828282"/>
<rect x="786.46" y="119.00" width="1.05" height="27.40" fill="#828282"/>
<rect x="813.21" y="119.00" width="1.05" height="27.40" fill="#828282"/>
<rect x="839.97" y="119.00" width="1.05" height="27.40" fill="#828282"/>
<rect x="866.72" y="119.00" width="1.05" height="27.40" fill="#828282"/>
<rect x="893.48" y="119.00" width="1.05" height="27.40" fill="#828282"/>
<rect x="920.23" y="119.00" width="1.05" height="27.40" fill="#828282"/>
<rect x="946.99" y="119.00" width="1.05" height="27.40" fill="#828282"/>
<rect x="973.74" y="119.00" width="1.05" height="27.40" fill="#828282"/>
<rect x="1000.50" y="119.00" width="1.05" height="27.40" fill="#828282"/>
<rect x="492.67" y="119.20" width="26.75" height="27.20" fill="none" stroke="#626262" stroke-width="1"/>
<text transform="translate(131.48 130.00) scale(0.900 1)" font-size="10.2" fill="#4d4d4d" stroke="#4d4d4d" stroke-width="0.4" text-anchor="middle">Пн</text>
<text transform="translate(131.48 143.70) scale(0.930 1)" font-size="10.9" fill="#4d4d4d" stroke="#4d4d4d" stroke-width="0.35" text-anchor="middle">12</text>
<text transform="translate(124.10 157.90) scale(1.100 1)" font-size="10" font-weight="bold" fill="#606060" stroke="#606060" stroke-width="0" text-anchor="middle">Д</text>
<text transform="translate(138.50 157.90) scale(0.960 1)" font-size="10" font-weight="bold" fill="#62656b" stroke="#62656b" stroke-width="0.15" text-anchor="middle">Н</text>
<text transform="translate(158.23 130.00) scale(0.900 1)" font-size="10.2" fill="#4d4d4d" stroke="#4d4d4d" stroke-width="0.4" text-anchor="middle">Вт</text>
<text transform="translate(158.23 143.70) scale(0.930 1)" font-size="10.9" fill="#4d4d4d" stroke="#4d4d4d" stroke-width="0.35" text-anchor="middle">13</text>
<text transform="translate(150.85 157.90) scale(1.100 1)" font-size="10" font-weight="bold" fill="#606060" stroke="#606060" stroke-width="0" text-anchor="middle">Д</text>
<text transform="translate(165.25 157.90) scale(0.960 1)" font-size="10" font-weight="bold" fill="#62656b" stroke="#62656b" stroke-width="0.15" text-anchor="middle">Н</text>
<text transform="translate(184.99 130.00) scale(0.900 1)" font-size="10.2" fill="#4d4d4d" stroke="#4d4d4d" stroke-width="0.4" text-anchor="middle">Ср</text>
<text transform="translate(184.99 143.70) scale(0.930 1)" font-size="10.9" fill="#4d4d4d" stroke="#4d4d4d" stroke-width="0.35" text-anchor="middle">14</text>
<text transform="translate(177.61 157.90) scale(1.100 1)" font-size="10" font-weight="bold" fill="#606060" stroke="#606060" stroke-width="0" text-anchor="middle">Д</text>
<text transform="translate(192.01 157.90) scale(0.960 1)" font-size="10" font-weight="bold" fill="#62656b" stroke="#62656b" stroke-width="0.15" text-anchor="middle">Н</text>
<text transform="translate(211.74 130.00) scale(0.900 1)" font-size="10.2" fill="#4d4d4d" stroke="#4d4d4d" stroke-width="0.4" text-anchor="middle">Чт</text>
<text transform="translate(211.74 143.70) scale(0.930 1)" font-size="10.9" fill="#4d4d4d" stroke="#4d4d4d" stroke-width="0.35" text-anchor="middle">15</text>
<text transform="translate(204.37 157.90) scale(1.100 1)" font-size="10" font-weight="bold" fill="#606060" stroke="#606060" stroke-width="0" text-anchor="middle">Д</text>
<text transform="translate(218.77 157.90) scale(0.960 1)" font-size="10" font-weight="bold" fill="#62656b" stroke="#62656b" stroke-width="0.15" text-anchor="middle">Н</text>
<text transform="translate(238.50 130.00) scale(0.900 1)" font-size="10.2" fill="#4d4d4d" stroke="#4d4d4d" stroke-width="0.4" text-anchor="middle">Пт</text>
<text transform="translate(238.50 143.70) scale(0.930 1)" font-size="10.9" fill="#4d4d4d" stroke="#4d4d4d" stroke-width="0.35" text-anchor="middle">16</text>
<text transform="translate(231.12 157.90) scale(1.100 1)" font-size="10" font-weight="bold" fill="#606060" stroke="#606060" stroke-width="0" text-anchor="middle">Д</text>
<text transform="translate(245.52 157.90) scale(0.960 1)" font-size="10" font-weight="bold" fill="#62656b" stroke="#62656b" stroke-width="0.15" text-anchor="middle">Н</text>
<text transform="translate(265.25 130.00) scale(0.900 1)" font-size="10.2" fill="#e8393f" stroke="#e8393f" stroke-width="0.4" text-anchor="middle">Сб</text>
<text transform="translate(265.25 143.70) scale(0.930 1)" font-size="10.9" fill="#e8393f" stroke="#e8393f" stroke-width="0.35" text-anchor="middle">17</text>
<text transform="translate(257.88 157.90) scale(1.100 1)" font-size="10" font-weight="bold" fill="#606060" stroke="#606060" stroke-width="0" text-anchor="middle">Д</text>
<text transform="translate(272.27 157.90) scale(0.960 1)" font-size="10" font-weight="bold" fill="#62656b" stroke="#62656b" stroke-width="0.15" text-anchor="middle">Н</text>
<text transform="translate(292.01 130.00) scale(0.900 1)" font-size="10.2" fill="#e8393f" stroke="#e8393f" stroke-width="0.4" text-anchor="middle">Вс</text>
<text transform="translate(292.01 143.70) scale(0.930 1)" font-size="10.9" fill="#e8393f" stroke="#e8393f" stroke-width="0.35" text-anchor="middle">18</text>
<text transform="translate(284.63 157.90) scale(1.100 1)" font-size="10" font-weight="bold" fill="#606060" stroke="#606060" stroke-width="0" text-anchor="middle">Д</text>
<text transform="translate(299.03 157.90) scale(0.960 1)" font-size="10" font-weight="bold" fill="#62656b" stroke="#62656b" stroke-width="0.15" text-anchor="middle">Н</text>
<text transform="translate(318.76 130.00) scale(0.900 1)" font-size="10.2" fill="#4d4d4d" stroke="#4d4d4d" stroke-width="0.4" text-anchor="middle">Пн</text>
<text transform="translate(318.76 143.70) scale(0.930 1)" font-size="10.9" fill="#4d4d4d" stroke="#4d4d4d" stroke-width="0.35" text-anchor="middle">19</text>
<text transform="translate(311.38 157.90) scale(1.100 1)" font-size="10" font-weight="bold" fill="#606060" stroke="#606060" stroke-width="0" text-anchor="middle">Д</text>
<text transform="translate(325.78 157.90) scale(0.960 1)" font-size="10" font-weight="bold" fill="#62656b" stroke="#62656b" stroke-width="0.15" text-anchor="middle">Н</text>
<text transform="translate(345.52 130.00) scale(0.900 1)" font-size="10.2" fill="#4d4d4d" stroke="#4d4d4d" stroke-width="0.4" text-anchor="middle">Вт</text>
<text transform="translate(345.52 143.70) scale(0.930 1)" font-size="10.9" fill="#4d4d4d" stroke="#4d4d4d" stroke-width="0.35" text-anchor="middle">20</text>
<text transform="translate(338.14 157.90) scale(1.100 1)" font-size="10" font-weight="bold" fill="#606060" stroke="#606060" stroke-width="0" text-anchor="middle">Д</text>
<text transform="translate(352.54 157.90) scale(0.960 1)" font-size="10" font-weight="bold" fill="#62656b" stroke="#62656b" stroke-width="0.15" text-anchor="middle">Н</text>
<text transform="translate(372.27 130.00) scale(0.900 1)" font-size="10.2" fill="#4d4d4d" stroke="#4d4d4d" stroke-width="0.4" text-anchor="middle">Ср</text>
<text transform="translate(372.27 143.70) scale(0.930 1)" font-size="10.9" fill="#4d4d4d" stroke="#4d4d4d" stroke-width="0.35" text-anchor="middle">21</text>
<text transform="translate(364.89 157.90) scale(1.100 1)" font-size="10" font-weight="bold" fill="#606060" stroke="#606060" stroke-width="0" text-anchor="middle">Д</text>
<text transform="translate(379.29 157.90) scale(0.960 1)" font-size="10" font-weight="bold" fill="#62656b" stroke="#62656b" stroke-width="0.15" text-anchor="middle">Н</text>
<text transform="translate(399.03 130.00) scale(0.900 1)" font-size="10.2" fill="#4d4d4d" stroke="#4d4d4d" stroke-width="0.4" text-anchor="middle">Чт</text>
<text transform="translate(399.03 143.70) scale(0.930 1)" font-size="10.9" fill="#4d4d4d" stroke="#4d4d4d" stroke-width="0.35" text-anchor="middle">22</text>
<text transform="translate(391.65 157.90) scale(1.100 1)" font-size="10" font-weight="bold" fill="#606060" stroke="#606060" stroke-width="0" text-anchor="middle">Д</text>
<text transform="translate(406.05 157.90) scale(0.960 1)" font-size="10" font-weight="bold" fill="#62656b" stroke="#62656b" stroke-width="0.15" text-anchor="middle">Н</text>
<text transform="translate(425.78 130.00) scale(0.900 1)" font-size="10.2" fill="#4d4d4d" stroke="#4d4d4d" stroke-width="0.4" text-anchor="middle">Пт</text>
<text transform="translate(425.78 143.70) scale(0.930 1)" font-size="10.9" fill="#4d4d4d" stroke="#4d4d4d" stroke-width="0.35" text-anchor="middle">23</text>
<text transform="translate(418.40 157.90) scale(1.100 1)" font-size="10" font-weight="bold" fill="#606060" stroke="#606060" stroke-width="0" text-anchor="middle">Д</text>
<text transform="translate(432.80 157.90) scale(0.960 1)" font-size="10" font-weight="bold" fill="#62656b" stroke="#62656b" stroke-width="0.15" text-anchor="middle">Н</text>
<text transform="translate(452.54 130.00) scale(0.900 1)" font-size="10.2" fill="#e8393f" stroke="#e8393f" stroke-width="0.4" text-anchor="middle">Сб</text>
<text transform="translate(452.54 143.70) scale(0.930 1)" font-size="10.9" fill="#e8393f" stroke="#e8393f" stroke-width="0.35" text-anchor="middle">24</text>
<text transform="translate(445.16 157.90) scale(1.100 1)" font-size="10" font-weight="bold" fill="#606060" stroke="#606060" stroke-width="0" text-anchor="middle">Д</text>
<text transform="translate(459.56 157.90) scale(0.960 1)" font-size="10" font-weight="bold" fill="#62656b" stroke="#62656b" stroke-width="0.15" text-anchor="middle">Н</text>
<text transform="translate(479.29 130.00) scale(0.900 1)" font-size="10.2" fill="#e8393f" stroke="#e8393f" stroke-width="0.4" text-anchor="middle">Вс</text>
<text transform="translate(479.29 143.70) scale(0.930 1)" font-size="10.9" fill="#e8393f" stroke="#e8393f" stroke-width="0.35" text-anchor="middle">25</text>
<text transform="translate(471.91 157.90) scale(1.100 1)" font-size="10" font-weight="bold" fill="#606060" stroke="#606060" stroke-width="0" text-anchor="middle">Д</text>
<text transform="translate(486.31 157.90) scale(0.960 1)" font-size="10" font-weight="bold" fill="#62656b" stroke="#62656b" stroke-width="0.15" text-anchor="middle">Н</text>
<text transform="translate(506.05 130.00) scale(0.900 1)" font-size="10.2" fill="#4d4d4d" stroke="#4d4d4d" stroke-width="0.4" text-anchor="middle">Пн</text>
<text transform="translate(506.05 143.70) scale(0.930 1)" font-size="10.9" fill="#4d4d4d" stroke="#4d4d4d" stroke-width="0.35" text-anchor="middle">26</text>
<text transform="translate(498.67 157.90) scale(1.100 1)" font-size="10" font-weight="bold" fill="#606060" stroke="#606060" stroke-width="0" text-anchor="middle">Д</text>
<text transform="translate(513.07 157.90) scale(0.960 1)" font-size="10" font-weight="bold" fill="#62656b" stroke="#62656b" stroke-width="0.15" text-anchor="middle">Н</text>
<text transform="translate(532.80 130.00) scale(0.900 1)" font-size="10.2" fill="#4d4d4d" stroke="#4d4d4d" stroke-width="0.4" text-anchor="middle">Вт</text>
<text transform="translate(532.80 143.70) scale(0.930 1)" font-size="10.9" fill="#4d4d4d" stroke="#4d4d4d" stroke-width="0.35" text-anchor="middle">27</text>
<text transform="translate(525.42 157.90) scale(1.100 1)" font-size="10" font-weight="bold" fill="#606060" stroke="#606060" stroke-width="0" text-anchor="middle">Д</text>
<text transform="translate(539.82 157.90) scale(0.960 1)" font-size="10" font-weight="bold" fill="#62656b" stroke="#62656b" stroke-width="0.15" text-anchor="middle">Н</text>
<text transform="translate(559.56 130.00) scale(0.900 1)" font-size="10.2" fill="#4d4d4d" stroke="#4d4d4d" stroke-width="0.4" text-anchor="middle">Ср</text>
<text transform="translate(559.56 143.70) scale(0.930 1)" font-size="10.9" fill="#4d4d4d" stroke="#4d4d4d" stroke-width="0.35" text-anchor="middle">28</text>
<text transform="translate(552.18 157.90) scale(1.100 1)" font-size="10" font-weight="bold" fill="#606060" stroke="#606060" stroke-width="0" text-anchor="middle">Д</text>
<text transform="translate(566.58 157.90) scale(0.960 1)" font-size="10" font-weight="bold" fill="#62656b" stroke="#62656b" stroke-width="0.15" text-anchor="middle">Н</text>
<text transform="translate(586.31 130.00) scale(0.900 1)" font-size="10.2" fill="#4d4d4d" stroke="#4d4d4d" stroke-width="0.4" text-anchor="middle">Чт</text>
<text transform="translate(586.31 143.70) scale(0.930 1)" font-size="10.9" fill="#4d4d4d" stroke="#4d4d4d" stroke-width="0.35" text-anchor="middle">29</text>
<text transform="translate(578.93 157.90) scale(1.100 1)" font-size="10" font-weight="bold" fill="#606060" stroke="#606060" stroke-width="0" text-anchor="middle">Д</text>
<text transform="translate(593.33 157.90) scale(0.960 1)" font-size="10" font-weight="bold" fill="#62656b" stroke="#62656b" stroke-width="0.15" text-anchor="middle">Н</text>
<text transform="translate(613.07 130.00) scale(0.900 1)" font-size="10.2" fill="#4d4d4d" stroke="#4d4d4d" stroke-width="0.4" text-anchor="middle">Пт</text>
<text transform="translate(613.07 143.70) scale(0.930 1)" font-size="10.9" fill="#4d4d4d" stroke="#4d4d4d" stroke-width="0.35" text-anchor="middle">30</text>
<text transform="translate(605.69 157.90) scale(1.100 1)" font-size="10" font-weight="bold" fill="#606060" stroke="#606060" stroke-width="0" text-anchor="middle">Д</text>
<text transform="translate(620.09 157.90) scale(0.960 1)" font-size="10" font-weight="bold" fill="#62656b" stroke="#62656b" stroke-width="0.15" text-anchor="middle">Н</text>
<text transform="translate(639.82 130.00) scale(0.900 1)" font-size="10.2" fill="#e8393f" stroke="#e8393f" stroke-width="0.4" text-anchor="middle">Сб</text>
<text transform="translate(639.82 143.70) scale(0.930 1)" font-size="10.9" fill="#e8393f" stroke="#e8393f" stroke-width="0.35" text-anchor="middle">1</text>
<text transform="translate(632.44 157.90) scale(1.100 1)" font-size="10" font-weight="bold" fill="#606060" stroke="#606060" stroke-width="0" text-anchor="middle">Д</text>
<text transform="translate(646.84 157.90) scale(0.960 1)" font-size="10" font-weight="bold" fill="#62656b" stroke="#62656b" stroke-width="0.15" text-anchor="middle">Н</text>
<text transform="translate(666.58 130.00) scale(0.900 1)" font-size="10.2" fill="#e8393f" stroke="#e8393f" stroke-width="0.4" text-anchor="middle">Вс</text>
<text transform="translate(666.58 143.70) scale(0.930 1)" font-size="10.9" fill="#e8393f" stroke="#e8393f" stroke-width="0.35" text-anchor="middle">2</text>
<text transform="translate(659.20 157.90) scale(1.100 1)" font-size="10" font-weight="bold" fill="#606060" stroke="#606060" stroke-width="0" text-anchor="middle">Д</text>
<text transform="translate(673.60 157.90) scale(0.960 1)" font-size="10" font-weight="bold" fill="#62656b" stroke="#62656b" stroke-width="0.15" text-anchor="middle">Н</text>
<text transform="translate(693.33 130.00) scale(0.900 1)" font-size="10.2" fill="#4d4d4d" stroke="#4d4d4d" stroke-width="0.4" text-anchor="middle">Пн</text>
<text transform="translate(693.33 143.70) scale(0.930 1)" font-size="10.9" fill="#4d4d4d" stroke="#4d4d4d" stroke-width="0.35" text-anchor="middle">3</text>
<text transform="translate(685.96 157.90) scale(1.100 1)" font-size="10" font-weight="bold" fill="#606060" stroke="#606060" stroke-width="0" text-anchor="middle">Д</text>
<text transform="translate(700.36 157.90) scale(0.960 1)" font-size="10" font-weight="bold" fill="#62656b" stroke="#62656b" stroke-width="0.15" text-anchor="middle">Н</text>
<text transform="translate(720.09 130.00) scale(0.900 1)" font-size="10.2" fill="#4d4d4d" stroke="#4d4d4d" stroke-width="0.4" text-anchor="middle">Вт</text>
<text transform="translate(720.09 143.70) scale(0.930 1)" font-size="10.9" fill="#4d4d4d" stroke="#4d4d4d" stroke-width="0.35" text-anchor="middle">4</text>
<text transform="translate(712.71 157.90) scale(1.100 1)" font-size="10" font-weight="bold" fill="#606060" stroke="#606060" stroke-width="0" text-anchor="middle">Д</text>
<text transform="translate(727.11 157.90) scale(0.960 1)" font-size="10" font-weight="bold" fill="#62656b" stroke="#62656b" stroke-width="0.15" text-anchor="middle">Н</text>
<text transform="translate(746.84 130.00) scale(0.900 1)" font-size="10.2" fill="#4d4d4d" stroke="#4d4d4d" stroke-width="0.4" text-anchor="middle">Ср</text>
<text transform="translate(746.84 143.70) scale(0.930 1)" font-size="10.9" fill="#4d4d4d" stroke="#4d4d4d" stroke-width="0.35" text-anchor="middle">5</text>
<text transform="translate(739.47 157.90) scale(1.100 1)" font-size="10" font-weight="bold" fill="#606060" stroke="#606060" stroke-width="0" text-anchor="middle">Д</text>
<text transform="translate(753.87 157.90) scale(0.960 1)" font-size="10" font-weight="bold" fill="#62656b" stroke="#62656b" stroke-width="0.15" text-anchor="middle">Н</text>
<text transform="translate(773.60 130.00) scale(0.900 1)" font-size="10.2" fill="#4d4d4d" stroke="#4d4d4d" stroke-width="0.4" text-anchor="middle">Чт</text>
<text transform="translate(773.60 143.70) scale(0.930 1)" font-size="10.9" fill="#4d4d4d" stroke="#4d4d4d" stroke-width="0.35" text-anchor="middle">6</text>
<text transform="translate(766.22 157.90) scale(1.100 1)" font-size="10" font-weight="bold" fill="#606060" stroke="#606060" stroke-width="0" text-anchor="middle">Д</text>
<text transform="translate(780.62 157.90) scale(0.960 1)" font-size="10" font-weight="bold" fill="#62656b" stroke="#62656b" stroke-width="0.15" text-anchor="middle">Н</text>
<text transform="translate(800.35 130.00) scale(0.900 1)" font-size="10.2" fill="#4d4d4d" stroke="#4d4d4d" stroke-width="0.4" text-anchor="middle">Пт</text>
<text transform="translate(800.35 143.70) scale(0.930 1)" font-size="10.9" fill="#4d4d4d" stroke="#4d4d4d" stroke-width="0.35" text-anchor="middle">7</text>
<text transform="translate(792.98 157.90) scale(1.100 1)" font-size="10" font-weight="bold" fill="#606060" stroke="#606060" stroke-width="0" text-anchor="middle">Д</text>
<text transform="translate(807.38 157.90) scale(0.960 1)" font-size="10" font-weight="bold" fill="#62656b" stroke="#62656b" stroke-width="0.15" text-anchor="middle">Н</text>
<text transform="translate(827.11 130.00) scale(0.900 1)" font-size="10.2" fill="#e8393f" stroke="#e8393f" stroke-width="0.4" text-anchor="middle">Сб</text>
<text transform="translate(827.11 143.70) scale(0.930 1)" font-size="10.9" fill="#e8393f" stroke="#e8393f" stroke-width="0.35" text-anchor="middle">8</text>
<text transform="translate(819.73 157.90) scale(1.100 1)" font-size="10" font-weight="bold" fill="#606060" stroke="#606060" stroke-width="0" text-anchor="middle">Д</text>
<text transform="translate(834.13 157.90) scale(0.960 1)" font-size="10" font-weight="bold" fill="#62656b" stroke="#62656b" stroke-width="0.15" text-anchor="middle">Н</text>
<text transform="translate(853.86 130.00) scale(0.900 1)" font-size="10.2" fill="#e8393f" stroke="#e8393f" stroke-width="0.4" text-anchor="middle">Вс</text>
<text transform="translate(853.86 143.70) scale(0.930 1)" font-size="10.9" fill="#e8393f" stroke="#e8393f" stroke-width="0.35" text-anchor="middle">9</text>
<text transform="translate(846.49 157.90) scale(1.100 1)" font-size="10" font-weight="bold" fill="#606060" stroke="#606060" stroke-width="0" text-anchor="middle">Д</text>
<text transform="translate(860.88 157.90) scale(0.960 1)" font-size="10" font-weight="bold" fill="#62656b" stroke="#62656b" stroke-width="0.15" text-anchor="middle">Н</text>
<text transform="translate(880.62 130.00) scale(0.900 1)" font-size="10.2" fill="#4d4d4d" stroke="#4d4d4d" stroke-width="0.4" text-anchor="middle">Пн</text>
<text transform="translate(880.62 143.70) scale(0.930 1)" font-size="10.9" fill="#4d4d4d" stroke="#4d4d4d" stroke-width="0.35" text-anchor="middle">10</text>
<text transform="translate(873.24 157.90) scale(1.100 1)" font-size="10" font-weight="bold" fill="#606060" stroke="#606060" stroke-width="0" text-anchor="middle">Д</text>
<text transform="translate(887.64 157.90) scale(0.960 1)" font-size="10" font-weight="bold" fill="#62656b" stroke="#62656b" stroke-width="0.15" text-anchor="middle">Н</text>
<text transform="translate(907.37 130.00) scale(0.900 1)" font-size="10.2" fill="#4d4d4d" stroke="#4d4d4d" stroke-width="0.4" text-anchor="middle">Вт</text>
<text transform="translate(907.37 143.70) scale(0.930 1)" font-size="10.9" fill="#4d4d4d" stroke="#4d4d4d" stroke-width="0.35" text-anchor="middle">11</text>
<text transform="translate(900.00 157.90) scale(1.100 1)" font-size="10" font-weight="bold" fill="#606060" stroke="#606060" stroke-width="0" text-anchor="middle">Д</text>
<text transform="translate(914.39 157.90) scale(0.960 1)" font-size="10" font-weight="bold" fill="#62656b" stroke="#62656b" stroke-width="0.15" text-anchor="middle">Н</text>
<text transform="translate(934.13 130.00) scale(0.900 1)" font-size="10.2" fill="#4d4d4d" stroke="#4d4d4d" stroke-width="0.4" text-anchor="middle">Ср</text>
<text transform="translate(934.13 143.70) scale(0.930 1)" font-size="10.9" fill="#4d4d4d" stroke="#4d4d4d" stroke-width="0.35" text-anchor="middle">12</text>
<text transform="translate(926.75 157.90) scale(1.100 1)" font-size="10" font-weight="bold" fill="#606060" stroke="#606060" stroke-width="0" text-anchor="middle">Д</text>
<text transform="translate(941.15 157.90) scale(0.960 1)" font-size="10" font-weight="bold" fill="#62656b" stroke="#62656b" stroke-width="0.15" text-anchor="middle">Н</text>
<text transform="translate(960.88 130.00) scale(0.900 1)" font-size="10.2" fill="#4d4d4d" stroke="#4d4d4d" stroke-width="0.4" text-anchor="middle">Чт</text>
<text transform="translate(960.88 143.70) scale(0.930 1)" font-size="10.9" fill="#4d4d4d" stroke="#4d4d4d" stroke-width="0.35" text-anchor="middle">13</text>
<text transform="translate(953.50 157.90) scale(1.100 1)" font-size="10" font-weight="bold" fill="#606060" stroke="#606060" stroke-width="0" text-anchor="middle">Д</text>
<text transform="translate(967.90 157.90) scale(0.960 1)" font-size="10" font-weight="bold" fill="#62656b" stroke="#62656b" stroke-width="0.15" text-anchor="middle">Н</text>
<text transform="translate(987.64 130.00) scale(0.900 1)" font-size="10.2" fill="#4d4d4d" stroke="#4d4d4d" stroke-width="0.4" text-anchor="middle">Пт</text>
<text transform="translate(987.64 143.70) scale(0.930 1)" font-size="10.9" fill="#4d4d4d" stroke="#4d4d4d" stroke-width="0.35" text-anchor="middle">14</text>
<text transform="translate(980.26 157.90) scale(1.100 1)" font-size="10" font-weight="bold" fill="#606060" stroke="#606060" stroke-width="0" text-anchor="middle">Д</text>
<text transform="translate(994.66 157.90) scale(0.960 1)" font-size="10" font-weight="bold" fill="#62656b" stroke="#62656b" stroke-width="0.15" text-anchor="middle">Н</text>
<text x="64.50" y="172.20" font-size="10.5" fill="#4d4d4d" stroke="#4d4d4d" stroke-width="0.25" text-anchor="middle">Ст 1м, 107</text>
<text x="64.50" y="186.51" font-size="10.5" fill="#4d4d4d" stroke="#4d4d4d" stroke-width="0.25" text-anchor="middle">Ст 1м, 108</text>
<text x="64.50" y="200.83" font-size="10.5" fill="#4d4d4d" stroke="#4d4d4d" stroke-width="0.25" text-anchor="middle">Ст 1м, 109</text>
<text x="64.50" y="215.14" font-size="10.5" fill="#4d4d4d" stroke="#4d4d4d" stroke-width="0.25" text-anchor="middle">Ст 1м, 110</text>
<text x="64.50" y="229.46" font-size="10.5" fill="#4d4d4d" stroke="#4d4d4d" stroke-width="0.25" text-anchor="middle">Ст 1м, 111</text>
<text x="64.50" y="243.78" font-size="10.5" fill="#4d4d4d" stroke="#4d4d4d" stroke-width="0.25" text-anchor="middle">Ст 1м, 112</text>
<rect x="11.50" y="247.49" width="106.60" height="14.31" fill="#f4a460"/>
<path d="M112.60 248.09 h5 v5 z" fill="#e02020"/>
<text x="64.50" y="258.09" font-size="10.5" fill="#6e4c34" stroke="#6e4c34" stroke-width="0.25" text-anchor="middle">Ст 1м, 113</text>
<text x="64.50" y="272.41" font-size="10.5" fill="#4d4d4d" stroke="#4d4d4d" stroke-width="0.25" text-anchor="middle">Ст 1м, 114</text>
<text x="64.50" y="286.72" font-size="10.5" fill="#4d4d4d" stroke="#4d4d4d" stroke-width="0.25" text-anchor="middle">Ст 1м, 115</text>
<text x="64.50" y="301.04" font-size="10.5" fill="#4d4d4d" stroke="#4d4d4d" stroke-width="0.25" text-anchor="middle">Ст 1м, 116</text>
<text x="64.50" y="315.35" font-size="10.5" fill="#4d4d4d" stroke="#4d4d4d" stroke-width="0.25" text-anchor="middle">Ст 1м, 118</text>
<rect x="11.50" y="319.06" width="106.60" height="14.31" fill="#f4a460"/>
<path d="M112.60 319.67 h5 v5 z" fill="#e02020"/>
<text x="64.50" y="329.67" font-size="10.5" fill="#6e4c34" stroke="#6e4c34" stroke-width="0.25" text-anchor="middle">Ст 1м, 120</text>
<text x="64.50" y="343.98" font-size="10.5" fill="#4d4d4d" stroke="#4d4d4d" stroke-width="0.25" text-anchor="middle">Ст 1м, 121</text>
<text x="64.50" y="358.30" font-size="10.5" fill="#4d4d4d" stroke="#4d4d4d" stroke-width="0.25" text-anchor="middle">Ст 1м, 122</text>
<rect x="11.50" y="362.01" width="106.60" height="14.31" fill="#f4a460"/>
<path d="M112.60 362.61 h5 v5 z" fill="#e02020"/>
<text x="64.50" y="372.61" font-size="10.5" fill="#6e4c34" stroke="#6e4c34" stroke-width="0.25" text-anchor="middle">Ст 1м, 123</text>
<text x="64.50" y="386.93" font-size="10.5" fill="#4d4d4d" stroke="#4d4d4d" stroke-width="0.25" text-anchor="middle">Ст 1м, 124</text>
<text x="64.50" y="401.24" font-size="10.5" fill="#4d4d4d" stroke="#4d4d4d" stroke-width="0.25" text-anchor="middle">Ст 1м, 201</text>
<text x="64.50" y="415.56" font-size="10.5" fill="#4d4d4d" stroke="#4d4d4d" stroke-width="0.25" text-anchor="middle">Ст 1м, 203</text>
<text x="64.50" y="429.87" font-size="10.5" fill="#4d4d4d" stroke="#4d4d4d" stroke-width="0.25" text-anchor="middle">Ст 1м, 204</text>
<text x="64.50" y="444.19" font-size="10.5" fill="#4d4d4d" stroke="#4d4d4d" stroke-width="0.25" text-anchor="middle">Ст 1м, 205</text>
<rect x="11.50" y="447.90" width="106.60" height="14.31" fill="#f4a460"/>
<path d="M112.60 448.50 h5 v5 z" fill="#e02020"/>
<text x="64.50" y="458.50" font-size="10.5" fill="#6e4c34" stroke="#6e4c34" stroke-width="0.25" text-anchor="middle">Ст 1м, 206</text>
<text x="64.50" y="472.82" font-size="10.5" fill="#4d4d4d" stroke="#4d4d4d" stroke-width="0.25" text-anchor="middle">Ст 1м, 207</text>
<text x="64.50" y="487.13" font-size="10.5" fill="#4d4d4d" stroke="#4d4d4d" stroke-width="0.25" text-anchor="middle">Ст 1м, 208</text>
<text x="64.50" y="501.45" font-size="10.5" fill="#4d4d4d" stroke="#4d4d4d" stroke-width="0.25" text-anchor="middle">Ст 1м, 209</text>
<text x="64.50" y="515.76" font-size="10.5" fill="#4d4d4d" stroke="#4d4d4d" stroke-width="0.25" text-anchor="middle">Ст 1м, 210</text>
<text x="64.50" y="530.08" font-size="10.5" fill="#4d4d4d" stroke="#4d4d4d" stroke-width="0.25" text-anchor="middle">Ст 1м, 211</text>
<text x="64.50" y="544.39" font-size="10.5" fill="#4d4d4d" stroke="#4d4d4d" stroke-width="0.25" text-anchor="middle">Ст 1м, 212</text>
<rect x="11.50" y="161.00" width="106.60" height="1.5" fill="#5a5a5a"/>
<rect x="11.50" y="175.06" width="106.60" height="1.7" fill="#404040"/>
<rect x="11.50" y="189.38" width="106.60" height="1.7" fill="#404040"/>
<rect x="11.50" y="203.69" width="106.60" height="1.7" fill="#404040"/>
<rect x="11.50" y="218.01" width="106.60" height="1.7" fill="#404040"/>
<rect x="11.50" y="232.33" width="106.60" height="1.7" fill="#404040"/>
<rect x="11.50" y="246.64" width="106.60" height="1.7" fill="#404040"/>
<rect x="11.50" y="260.95" width="106.60" height="1.7" fill="#404040"/>
<rect x="11.50" y="275.27" width="106.60" height="1.7" fill="#404040"/>
<rect x="11.50" y="289.58" width="106.60" height="1.7" fill="#404040"/>
<rect x="11.50" y="303.90" width="106.60" height="1.7" fill="#404040"/>
<rect x="11.50" y="318.21" width="106.60" height="1.7" fill="#404040"/>
<rect x="11.50" y="332.53" width="106.60" height="1.7" fill="#404040"/>
<rect x="11.50" y="346.84" width="106.60" height="1.7" fill="#404040"/>
<rect x="11.50" y="361.16" width="106.60" height="1.7" fill="#404040"/>
<rect x="11.50" y="375.47" width="106.60" height="1.7" fill="#404040"/>
<rect x="11.50" y="389.79" width="106.60" height="1.7" fill="#404040"/>
<rect x="11.50" y="404.10" width="106.60" height="1.7" fill="#404040"/>
<rect x="11.50" y="418.42" width="106.60" height="1.7" fill="#404040"/>
<rect x="11.50" y="432.74" width="106.60" height="1.7" fill="#404040"/>
<rect x="11.50" y="447.05" width="106.60" height="1.7" fill="#404040"/>
<rect x="11.50" y="461.37" width="106.60" height="1.7" fill="#404040"/>
<rect x="11.50" y="475.68" width="106.60" height="1.7" fill="#404040"/>
<rect x="11.50" y="490.00" width="106.60" height="1.7" fill="#404040"/>
<rect x="11.50" y="504.31" width="106.60" height="1.7" fill="#404040"/>
<rect x="11.50" y="518.62" width="106.60" height="1.7" fill="#404040"/>
<rect x="11.50" y="532.94" width="106.60" height="1.7" fill="#404040"/>
<rect x="11.50" y="547.25" width="106.60" height="1.7" fill="#404040"/>
<rect x="11.20" y="103.30" width="1" height="434.30" fill="#b4b4b4"/>
<rect x="117.55" y="103.30" width="1.1" height="58.30" fill="#888"/>
<rect x="117.70" y="161.60" width="1.2" height="376.00" fill="#b2b5be"/>
<text transform="translate(64.80 136.50) scale(0.970 1)" font-size="10" font-weight="bold" fill="#5c5c5c" stroke="#5c5c5c" stroke-width="0" text-anchor="middle">Номер</text>
<text transform="translate(64.80 157.90) scale(0.970 1)" font-size="10" font-weight="bold" fill="#5c5c5c" stroke="#5c5c5c" stroke-width="0" text-anchor="middle">День / Ночь</text>
</g>
<rect x="11.25" y="102.9" width="1005.4" height="448.8" fill="none" stroke="#c4c4c4" stroke-width="1"/>
<path d="M1006.2 115.8 l3.1 -3.6 l3.1 3.6 z" fill="#4a4a4a"/>
<path d="M1006 525.6 l3 3.4 l3 -3.4 z" fill="#4a4a4a"/>
<rect x="1005.6" y="126" width="7.2" height="389.5" rx="3.6" fill="#dbdbdb"/>
<rect x="1005.6" y="167" width="7.2" height="52" rx="3.6" fill="#a9a9a9"/>
<path d="M24.3 541.7 l-4.3 2.9 l4.3 2.9 z" fill="#4a4a4a"/>
<path d="M990 541.5 l4.3 2.9 l-4.3 2.9 z" fill="#4a4a4a"/>
<rect x="33.5" y="541" width="947" height="7.2" rx="3.6" fill="#dbdbdb"/>
<rect x="147" y="541" width="338.3" height="7.2" rx="3.6" fill="#a5a5a5"/>
</svg>
</div>
</body>
</html>
